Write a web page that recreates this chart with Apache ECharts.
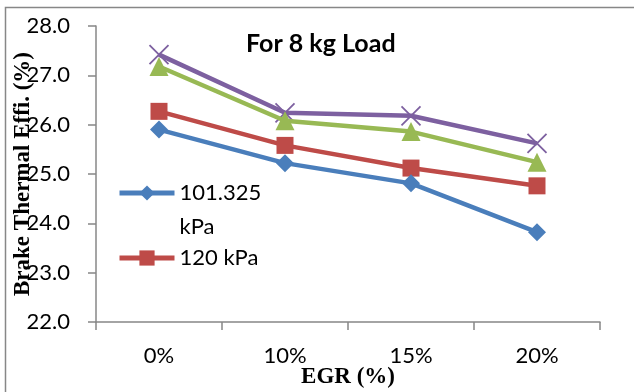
<!DOCTYPE html>
<html>
<head>
<meta charset="utf-8">
<style>
  html, body { margin: 0; padding: 0; background: #fff; }
  #chart { width: 634px; height: 392px; }
</style>
<script src="https://cdn.jsdelivr.net/npm/echarts@6/dist/echarts.min.js"></script>
</head>
<body>
<div id="chart"></div>
<script>
const categories = ['0%', '10%', '15%', '20%'];
const seriesNames = ['101.325 kPa', '120 kPa', '140 kPa', '160 kPa'];
const s101 = [25.9, 25.22, 24.81, 23.82];
const s120 = [26.27, 25.58, 25.12, 24.76];
const s140 = [27.18, 26.08, 25.86, 25.24];
const s160 = [27.42, 26.24, 26.18, 25.62];
const yTicks = [22, 23, 24, 25, 26, 27, 28];

const chart = echarts.init(document.getElementById('chart'), null, { renderer: 'canvas' });
const axisGray = '#878787';
const sansFont = 'Lato';
const serifFont = 'Liberation Serif';
const xMark = 'path://M0,0 L10,10 M10,0 L0,10';

const option = {
  animation: false,
  backgroundColor: '#fff',
  title: {
    text: 'For 8 kg Load',
    left: 246,
    top: 31,
    padding: 0,
    textStyle: { fontFamily: sansFont, fontWeight: 'bold', fontSize: 25, color: '#000' }
  },
  legend: [
    {
      data: [seriesNames[0]],
      orient: 'vertical',
      left: 117,
      top: 142,
      padding: 0,
      itemWidth: 55,
      itemHeight: 19,
      itemGap: 0,
      lineStyle: { width: 5 },
      formatter: function (n) { return '\n' + n.replace(' ', '\n'); },
      textStyle: { fontFamily: sansFont, fontSize: 22, color: '#000', lineHeight: 34 }
    },
    {
      data: [seriesNames[1]],
      orient: 'vertical',
      left: 117,
      top: 241,
      padding: 0,
      itemWidth: 55,
      itemHeight: 19,
      lineStyle: { width: 5 },
      textStyle: { fontFamily: sansFont, fontSize: 22, color: '#000', lineHeight: 34 }
    }
  ],
  grid: { left: 96, right: 34, top: 26, bottom: 70, containLabel: false, outerBoundsMode: 'none' },
  xAxis: {
    type: 'category',
    data: categories,
    boundaryGap: true,
    name: 'EGR (%)',
    nameLocation: 'middle',
    nameGap: 44,
    nameMoveOverlap: false,
    nameTextStyle: { fontFamily: serifFont, fontWeight: 'bold', fontSize: 23, color: '#000' },
    axisLine: { show: true, lineStyle: { color: axisGray, width: 1.5 } },
    axisTick: { show: true, alignWithLabel: false, length: 8, inside: false, lineStyle: { color: axisGray, width: 1.5 } },
    axisLabel: { margin: 23, fontFamily: sansFont, fontSize: 22, color: '#000' },
    splitLine: { show: false }
  },
  yAxis: {
    type: 'value',
    min: yTicks[0],
    max: yTicks[yTicks.length - 1],
    interval: 1,
    name: 'Brake Thermal Effi. (%)',
    nameLocation: 'middle',
    nameRotate: 90,
    nameGap: 61,
    nameMoveOverlap: false,
    nameTextStyle: { fontFamily: serifFont, fontWeight: 'bold', fontSize: 23, color: '#000' },
    axisLine: { show: true, lineStyle: { color: axisGray, width: 1.5 } },
    axisTick: { show: true, length: 8, inside: false, lineStyle: { color: axisGray, width: 1.5 } },
    axisLabel: { margin: 26, fontFamily: sansFont, fontSize: 22, color: '#000', formatter: function (v) { return v.toFixed(1); } },
    splitLine: { show: false }
  },
  graphic: [
    {
      type: 'rect',
      silent: true,
      shape: { x: 5.5, y: 7.5, width: 800, height: 600 },
      style: { fill: 'none', stroke: axisGray, lineWidth: 1.5 },
      z: -10
    }
  ],
  series: [
    {
      name: seriesNames[0], type: 'line', data: s101,
      symbol: 'diamond', symbolSize: 18,
      lineStyle: { color: '#4A7EBB', width: 4.5 },
      itemStyle: { color: '#4A7EBB' }, z: 4
    },
    {
      name: seriesNames[1], type: 'line', data: s120,
      symbol: 'rect', symbolSize: 17,
      lineStyle: { color: '#BE4B48', width: 4.5 },
      itemStyle: { color: '#BE4B48' }, z: 3
    },
    {
      name: seriesNames[2], type: 'line', data: s140,
      symbol: 'triangle', symbolSize: 19,
      lineStyle: { color: '#98B954', width: 4.5 },
      itemStyle: { color: '#98B954' }, z: 2
    },
    {
      name: seriesNames[3], type: 'line', data: s160,
      symbol: xMark, symbolSize: 19,
      lineStyle: { color: '#7D60A0', width: 4.5 },
      itemStyle: { color: '#7D60A0', borderColor: '#7D60A0', borderWidth: 1.8 }, z: 1
    }
  ]
};
chart.setOption(option);
</script>
</body>
</html>
